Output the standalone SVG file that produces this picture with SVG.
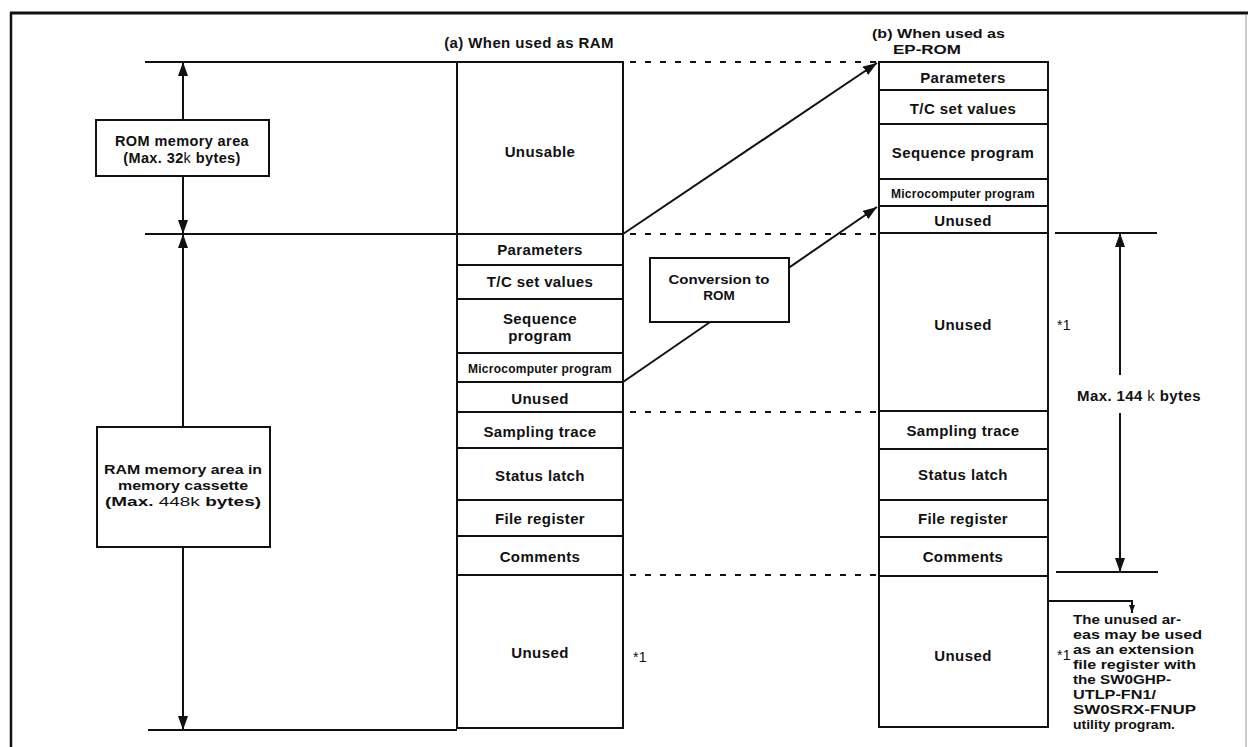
<svg xmlns="http://www.w3.org/2000/svg" width="1248" height="747" viewBox="0 0 1248 747">
  <defs>
    <marker id="head" viewBox="0 0 14 10" refX="14" refY="5" markerWidth="14" markerHeight="10" markerUnits="userSpaceOnUse" orient="auto">
      <path d="M0,0 L14,5 L0,10 Z" fill="#111"/>
    </marker>
    <marker id="headSmall" viewBox="0 0 8 6" refX="8" refY="3" markerWidth="8" markerHeight="6" markerUnits="userSpaceOnUse" orient="auto">
      <path d="M0,0 L8,3 L0,6 Z" fill="#111"/>
    </marker>
  </defs>
  <style>
    text { font-family: "Liberation Sans", Arial, sans-serif; font-weight: bold; font-size: 15px; letter-spacing: 0.4px; fill: #111; }
    .c { text-anchor: middle; }
    .sm { font-size: 12px; letter-spacing: 0.25px; }
    .lab { font-size: 14.5px; }
    .ram { font-size: 13.5px; letter-spacing: 0; }
    .note { font-size: 13px; letter-spacing: 0; }
    .k { font-weight: normal; }
    .star { font-weight: normal; font-size: 14px; }
    .cell { fill: #fff; stroke: #111; stroke-width: 2; }
    .box { fill: #fff; stroke: #111; stroke-width: 2; }
    .rule { stroke: #111; stroke-width: 2; fill: none; }
    .dash { stroke: #111; stroke-width: 2; stroke-dasharray: 6 9; fill: none; }
    .conn { stroke: #111; stroke-width: 2; fill: none; }
  </style>
  <rect width="1248" height="747" fill="#fff"/>

  <!-- page frame -->
  <g id="frame">
    <line x1="10" y1="13" x2="1248" y2="13" stroke="#111" stroke-width="3"/>
    <line x1="11" y1="12" x2="11" y2="747" stroke="#111" stroke-width="2.5"/>
    <line x1="1246" y1="14" x2="1246" y2="747" stroke="#999" stroke-width="1"/>
  </g>

  <!-- column headings -->
  <g id="heading-ram">
    <text class="c" x="529" y="48">(a) When used as RAM</text>
  </g>
  <g id="heading-rom">
    <text class="ram" x="872" y="38" textLength="133" lengthAdjust="spacingAndGlyphs">(b) When used as</text>
    <text class="ram" x="893" y="54" textLength="68" lengthAdjust="spacingAndGlyphs">EP-ROM</text>
  </g>

  <!-- connectors: range rules, dimension arrows, transfer lines -->
  <g id="connectors">
    <line class="rule" x1="145" y1="62" x2="457" y2="62"/>
    <line class="rule" x1="145" y1="234" x2="457" y2="234"/>
    <line class="rule" x1="148" y1="730" x2="457" y2="730"/>

    <line class="conn" x1="183" y1="120" x2="183" y2="62" marker-end="url(#head)"/>
    <line class="conn" x1="183" y1="176" x2="183" y2="234" marker-end="url(#head)"/>
    <line class="conn" x1="183" y1="427" x2="183" y2="234" marker-end="url(#head)"/>
    <line class="conn" x1="183" y1="547" x2="183" y2="730" marker-end="url(#head)"/>

    <line class="dash" x1="630" y1="62" x2="879" y2="62"/>
    <line class="dash" x1="630" y1="234" x2="879" y2="234"/>
    <line class="dash" x1="630" y1="412" x2="879" y2="412"/>
    <line class="dash" x1="630" y1="575" x2="879" y2="575"/>

    <line class="conn" x1="623" y1="234" x2="877" y2="63" marker-end="url(#head)"/>
    <line class="conn" x1="623" y1="382" x2="877" y2="207" marker-end="url(#head)"/>

    <line class="rule" x1="1055" y1="233" x2="1157" y2="233"/>
    <line class="rule" x1="1056" y1="572" x2="1158" y2="572"/>
    <line class="conn" x1="1120" y1="375" x2="1120" y2="233" marker-end="url(#head)"/>
    <line class="conn" x1="1120" y1="413" x2="1120" y2="572" marker-end="url(#head)"/>

    <polyline class="conn" points="1048,601 1132,601 1132,613" stroke-width="1.5" marker-end="url(#headSmall)"/>
  </g>

  <!-- left range labels -->
  <g id="rom-area">
    <rect class="box" x="96" y="120" width="173" height="56"/>
    <text class="c lab" x="182" y="146">ROM memory area</text>
    <text class="c lab" x="182" y="163">(Max. 32<tspan class="k">k</tspan>  bytes)</text>
  </g>
  <g id="ram-area">
    <rect class="box" x="97" y="427" width="173" height="120"/>
    <text class="c ram" x="183" y="474" textLength="158" lengthAdjust="spacingAndGlyphs">RAM memory area in</text>
    <text class="c ram" x="183" y="490" textLength="130" lengthAdjust="spacingAndGlyphs">memory cassette</text>
    <text class="c ram" x="183" y="506" textLength="156" lengthAdjust="spacingAndGlyphs">(Max. <tspan class="k">448k</tspan>  bytes)</text>
  </g>

  <g id="conversion">
    <rect class="box" x="650" y="258" width="139" height="64"/>
    <text class="c ram" x="719" y="284" textLength="101" lengthAdjust="spacingAndGlyphs">Conversion to</text>
    <text class="c ram" x="719" y="300">ROM</text>
  </g>

  <!-- (a) RAM layout -->
  <g id="ram-unusable"><rect class="cell" x="457" y="62" width="166" height="172"/><text class="c" x="540" y="157">Unusable</text></g>
  <g id="ram-parameters"><rect class="cell" x="457" y="234" width="166" height="31"/><text class="c" x="540" y="255">Parameters</text></g>
  <g id="ram-tc"><rect class="cell" x="457" y="265" width="166" height="34"/><text class="c" x="540" y="287">T/C set values</text></g>
  <g id="ram-sequence"><rect class="cell" x="457" y="299" width="166" height="54"/><text class="c" x="540" y="324">Sequence</text><text class="c" x="540" y="341">program</text></g>
  <g id="ram-micro"><rect class="cell" x="457" y="353" width="166" height="29"/><text class="c sm" x="540" y="373">Microcomputer program</text></g>
  <g id="ram-unused1"><rect class="cell" x="457" y="382" width="166" height="30"/><text class="c" x="540" y="404">Unused</text></g>
  <g id="ram-sampling"><rect class="cell" x="457" y="412" width="166" height="36"/><text class="c" x="540" y="437">Sampling trace</text></g>
  <g id="ram-status"><rect class="cell" x="457" y="448" width="166" height="52"/><text class="c" x="540" y="481">Status latch</text></g>
  <g id="ram-file"><rect class="cell" x="457" y="500" width="166" height="36"/><text class="c" x="540" y="524">File register</text></g>
  <g id="ram-comments"><rect class="cell" x="457" y="536" width="166" height="39"/><text class="c" x="540" y="562">Comments</text></g>
  <g id="ram-unused2"><rect class="cell" x="457" y="575" width="166" height="153"/><text class="c" x="540" y="658">Unused</text></g>
  <text class="star" x="633" y="662">*1</text>

  <!-- (b) EP-ROM layout -->
  <g id="rom-parameters"><rect class="cell" x="879" y="62" width="169" height="28"/><text class="c" x="963" y="83">Parameters</text></g>
  <g id="rom-tc"><rect class="cell" x="879" y="90" width="169" height="34"/><text class="c" x="963" y="114">T/C set values</text></g>
  <g id="rom-sequence"><rect class="cell" x="879" y="124" width="169" height="55"/><text class="c" x="963" y="158">Sequence program</text></g>
  <g id="rom-micro"><rect class="cell" x="879" y="179" width="169" height="27"/><text class="c sm" x="963" y="198">Microcomputer program</text></g>
  <g id="rom-unused1"><rect class="cell" x="879" y="206" width="169" height="27"/><text class="c" x="963" y="226">Unused</text></g>
  <g id="rom-unused2"><rect class="cell" x="879" y="233" width="169" height="178"/><text class="c" x="963" y="330">Unused</text></g>
  <g id="rom-sampling"><rect class="cell" x="879" y="411" width="169" height="38"/><text class="c" x="963" y="436">Sampling trace</text></g>
  <g id="rom-status"><rect class="cell" x="879" y="449" width="169" height="51"/><text class="c" x="963" y="480">Status latch</text></g>
  <g id="rom-file"><rect class="cell" x="879" y="500" width="169" height="37"/><text class="c" x="963" y="524">File register</text></g>
  <g id="rom-comments"><rect class="cell" x="879" y="537" width="169" height="39"/><text class="c" x="963" y="562">Comments</text></g>
  <g id="rom-unused3"><rect class="cell" x="879" y="576" width="169" height="151"/><text class="c" x="963" y="661">Unused</text></g>
  <text class="star" x="1057" y="330">*1</text>

  <!-- dimension label -->
  <g id="max-144k">
    <text x="1077" y="401">Max. 144 <tspan class="k">k</tspan> bytes</text>
  </g>

  <!-- footnote -->
  <g id="footnote">
    <text class="star" x="1057" y="660">*1</text>
    <text class="note" x="1073" y="624" textLength="108" lengthAdjust="spacingAndGlyphs">The unused ar-</text>
    <text class="note" x="1073" y="639" textLength="129" lengthAdjust="spacingAndGlyphs">eas may be used</text>
    <text class="note" x="1073" y="654" textLength="121" lengthAdjust="spacingAndGlyphs">as an extension</text>
    <text class="note" x="1073" y="669" textLength="123" lengthAdjust="spacingAndGlyphs">file register with</text>
    <text class="note" x="1073" y="684" textLength="98" lengthAdjust="spacingAndGlyphs">the SW0GHP-</text>
    <text class="note" x="1073" y="699" textLength="83" lengthAdjust="spacingAndGlyphs">UTLP-FN1/</text>
    <text class="note" x="1073" y="714" textLength="123" lengthAdjust="spacingAndGlyphs">SW0SRX-FNUP</text>
    <text class="note" x="1073" y="729" textLength="102" lengthAdjust="spacingAndGlyphs">utility program.</text>
  </g>
</svg>
